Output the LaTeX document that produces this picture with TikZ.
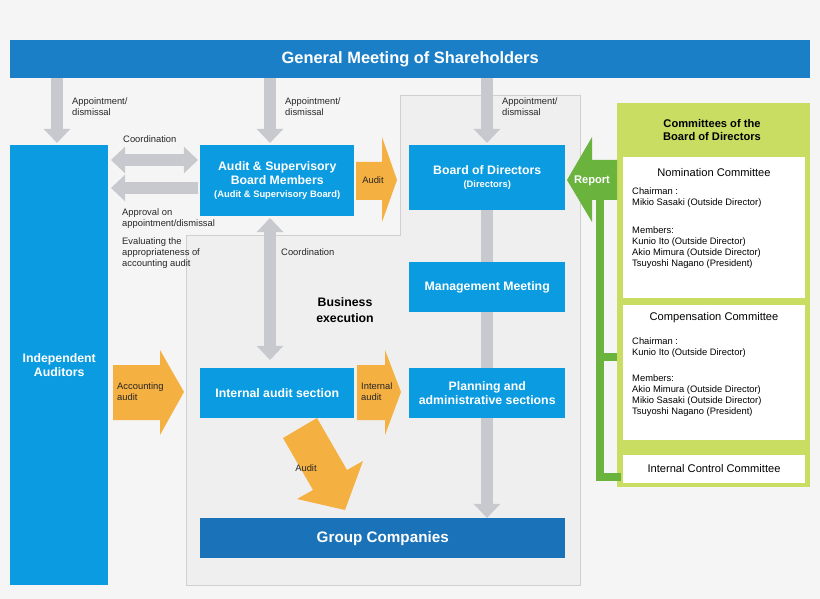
\documentclass[tikz,border=0pt]{standalone}
\usepackage{fontspec}
\setmainfont{Liberation Sans}
\usetikzlibrary{arrows.meta}
\definecolor{bgc}{HTML}{F5F5F5}
\definecolor{bizc}{HTML}{EFEFEF}
\definecolor{bizl}{HTML}{D0D0D0}
\definecolor{boxb}{HTML}{0A9BE0}
\definecolor{topb}{HTML}{1B7FC8}
\definecolor{grpb}{HTML}{1A72B9}
\definecolor{orng}{HTML}{F5B042}
\definecolor{garr}{HTML}{C8C9CF}
\definecolor{lgrn}{HTML}{C9DD62}
\definecolor{dgrn}{HTML}{6AB43E}
\begin{document}
\begin{tikzpicture}[x=0.03cm,y=-0.03cm,
  bbox/.style={fill=boxb,text=white,font=\bfseries\fontsize{10.5}{12}\selectfont,align=center,inner sep=0pt,anchor=north west},
  small/.style={font=\fontsize{8}{9.5}\selectfont,align=left,text=black!85,inner sep=0pt},
  wbox/.style={fill=white,anchor=north west,inner sep=0pt},
  garrow/.style={draw=garr,line width=10pt,-{Triangle[width=22pt,length=12pt]}},
  garrow2/.style={draw=garr,line width=10pt,{Triangle[width=22pt,length=12pt]}-{Triangle[width=22pt,length=12pt]}},
  cl/.style={font=\fontsize{8}{9.6}\selectfont,align=left,anchor=north west,inner sep=0pt}]
\fill[bgc] (0,0) rectangle (820,599);
\useasboundingbox (0,0) rectangle (820,599);
% business execution region
\filldraw[fill=bizc,draw=bizl,line width=0.8pt] (400,95)--(580,95)--(580,585)--(186,585)--(186,235)--(400,235)--cycle;
% top bar
\node[fill=topb,text=white,anchor=north west,minimum width=800*0.03cm,minimum height=38*0.03cm,inner sep=0pt,font=\bfseries\fontsize{14}{16}\selectfont] (gm) at (10,40) {General Meeting of Shareholders};
% thick vertical execution arrow
\coordinate (v1) at (487,210); \coordinate (v2) at (487,518);
\draw[garrow] (v1)--(v2);
% boxes
\node[bbox,minimum width=98*0.03cm,minimum height=440*0.03cm] (ia) at (10,145) {Independent\\Auditors};
\node[bbox,minimum width=154*0.03cm,minimum height=71*0.03cm] (asb) at (200,145) {Audit \& Supervisory\\Board Members\\[-1pt]{\fontsize{8}{9}\selectfont(Audit \& Supervisory Board)}};
\node[bbox,minimum width=156*0.03cm,minimum height=65*0.03cm] (bod) at (409,145) {Board of Directors\\[-1pt]{\fontsize{8}{9}\selectfont(Directors)}};
\node[bbox,minimum width=156*0.03cm,minimum height=50*0.03cm] (mm) at (409,262) {Management Meeting};
\node[bbox,minimum width=154*0.03cm,minimum height=50*0.03cm] (ias) at (200,368) {Internal audit section};
\node[bbox,minimum width=156*0.03cm,minimum height=50*0.03cm] (pas) at (409,368) {Planning and\\administrative sections};
\node[bbox,fill=grpb,minimum width=365*0.03cm,minimum height=40*0.03cm,font=\bfseries\fontsize{13}{15}\selectfont] (gc) at (200,518) {Group Companies};
% appointment arrows
\coordinate (a1) at (57,78); \coordinate (a1e) at (57,143);
\coordinate (a2) at (270,78); \coordinate (a2e) at (270,143);
\coordinate (a3) at (487,78); \coordinate (a3e) at (487,143);
\draw[garrow] (a1)--(a1e); \draw[garrow] (a2)--(a2e); \draw[garrow] (a3)--(a3e);
\node[small,anchor=north west] (t1) at (72,97) {Appointment/\\dismissal};
\node[small,anchor=north west] (t2) at (285,97) {Appointment/\\dismissal};
\node[small,anchor=north west] (t3) at (502,97) {Appointment/\\dismissal};
% coordination arrows
\coordinate (c1) at (111,160); \coordinate (c2) at (198,160);
\draw[garrow2] (c1)--(c2);
\coordinate (c3) at (198,188); \coordinate (c4) at (111,188);
\draw[garrow] (c3)--(c4);
\node[small,anchor=north west] (tc) at (123,135) {Coordination};
\node[small,anchor=north west] (tap) at (122,208) {Approval on\\appointment/dismissal};
\node[small,anchor=north west] (tev) at (122,237) {Evaluating the\\appropriateness of\\accounting audit};
\coordinate (c5) at (270,218); \coordinate (c6) at (270,360);
\draw[garrow2] (c5)--(c6);
\node[small,anchor=north west] (tc2) at (281,248) {Coordination};
\node[font=\bfseries\fontsize{10.5}{13}\selectfont,align=center] (be) at (345,310) {Business\\execution};
% orange arrows
\fill[orng] (356,162)--(382,162)--(382,137)--(397,180)--(382,222)--(382,200)--(356,200)--cycle;
\node[small,anchor=center] (la) at (373,180) {Audit};
\fill[orng] (113,365)--(160,365)--(160,350)--(184,392)--(160,435)--(160,420)--(113,420)--cycle;
\node[small,anchor=west] (lac) at (117,392) {Accounting\\audit};
\fill[orng] (357,365)--(385,365)--(385,350)--(401,392)--(385,435)--(385,420)--(357,420)--cycle;
\node[small,anchor=west] (lia) at (361,392) {Internal\\audit};
\fill[orng] (317,418)--(347,470)--(363,461)--(345,510)--(297,499)--(313,490)--(283,438)--cycle;
\node[small,anchor=center] (lda) at (306,468) {Audit};
% committees
\fill[lgrn] (617,103) rectangle (810,487);
\node[font=\bfseries\fontsize{9.5}{11.5}\selectfont,align=center] (cht) at (712,130) {Committees of the\\Board of Directors};
\node[wbox,minimum width=182*0.03cm,minimum height=141*0.03cm] (nom) at (623,157) {};
\node[wbox,minimum width=182*0.03cm,minimum height=135*0.03cm] (comp) at (623,305) {};
\node[wbox,minimum width=182*0.03cm,minimum height=28*0.03cm] (icc) at (623,455) {};
\node[font=\fontsize{9.5}{11}\selectfont] (nt) at (714,173) {Nomination Committee};
\node[cl] (n1) at (632,187) {Chairman :\\Mikio Sasaki (Outside Director)};
\node[cl] (n2) at (632,226) {Members:\\Kunio Ito (Outside Director)\\Akio Mimura (Outside Director)\\Tsuyoshi Nagano (President)};
\node[font=\fontsize{9.5}{11}\selectfont] (ct) at (714,318) {Compensation Committee};
\node[cl] (c1t) at (632,337) {Chairman :\\Kunio Ito (Outside Director)};
\node[cl] (c2t) at (632,374) {Members:\\Akio Mimura (Outside Director)\\Mikio Sasaki (Outside Director)\\Tsuyoshi Nagano (President)};
\node[font=\fontsize{9.5}{11}\selectfont] (it) at (714,469) {Internal Control Committee};
% green connectors and report arrow
\coordinate (g0) at (600,198); \coordinate (g1) at (600,477);
\coordinate (g2) at (617,357); \coordinate (g3) at (617,477);
\draw[dgrn,line width=6pt] (g0)--(g1);
\draw[dgrn,line width=6pt] (600,357)--(g2);
\draw[dgrn,line width=6pt,line cap=rect] (g1)--(g3);
\fill[dgrn] (617,160)--(592,160)--(592,137)--(567,180)--(592,222)--(592,200)--(617,200)--cycle;
\node[font=\bfseries\fontsize{9.5}{11}\selectfont,text=white] (rp) at (592,181) {Report};
\end{tikzpicture}
\end{document}
